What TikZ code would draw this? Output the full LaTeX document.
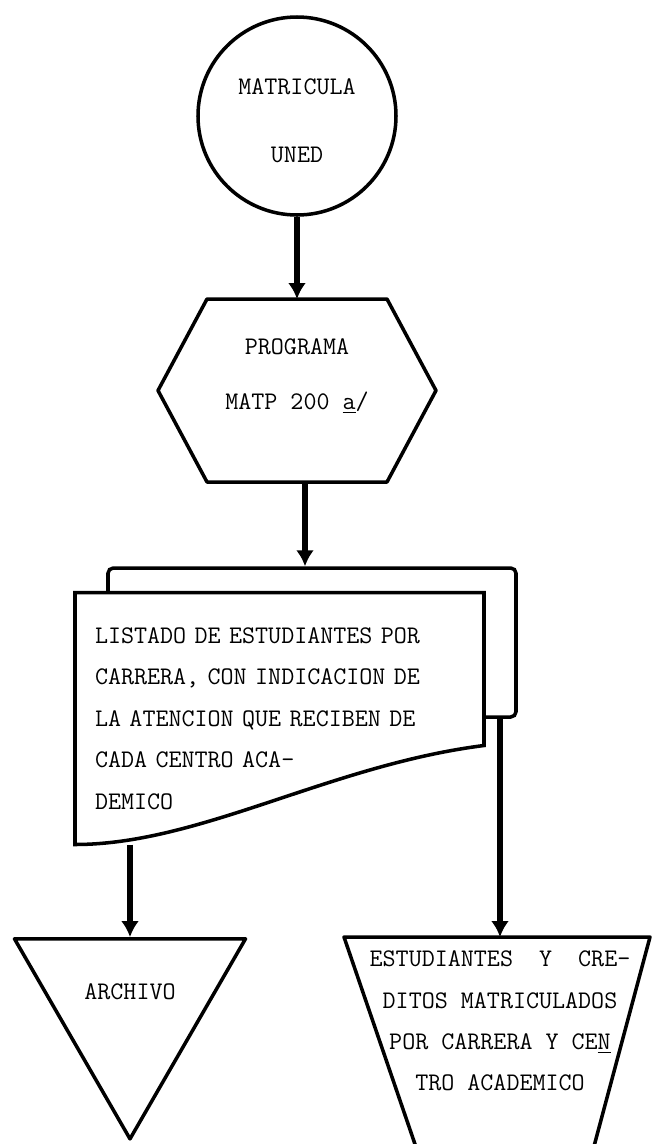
\documentclass[tikz,border=0pt]{standalone}
\usepackage{fontspec}
\usetikzlibrary{positioning,shapes.geometric,arrows.meta,backgrounds}

\begin{document}
\begin{tikzpicture}[node distance = 5cm and 1cm ,on grid ,line width = 2pt ,line join = round ,every node/.style = {font = \ttfamily\fontsize{14.4}{23.6}\selectfont} ,flow/.style = {-{Latex[length=0.32cm ,width=0.36cm]} ,line width = 3.2pt} ,outline/.style = {draw ,line width = 2pt}]
\useasboundingbox (0,0) rectangle (13.04,-22.88);
\node[circle ,outline ,minimum size = 3.96cm ,inner sep = 0pt ,align = center ,text height = 1.87cm] (uned) at (5.94,-2.32) {MATRICULA\\[15pt]UNED};
\node[minimum width = 5.56cm ,minimum height = 3.66cm ,inner sep = 0pt ,outer sep = 0pt ,align = center ,text depth = 0.64cm] (prog) [below = 5.49cm of uned] {PROGRAMA\\[7.7pt]MATP 200 \underline{a}/};
\draw[outline] ([xshift=0.98cm]prog.north west) -- ([xshift=-0.98cm]prog.north east) -- (prog.east) -- ([xshift=-0.98cm]prog.south east) -- ([xshift=0.98cm]prog.south west) -- (prog.west) -- cycle;
\path (uned) edge [flow] (prog);
% listado, con su hoja de fondo
\begin{scope}[on background layer]
\node[outline ,fill = white ,rounded corners = 3pt ,minimum width = 8.16cm ,minimum height = 2.98cm] (listbg) [below right = 5.04cm and 0.30cm of prog] {};
\end{scope}
\path ([xshift=0.16cm]prog.south) edge [flow] ([xshift=0.16cm]prog.south |- listbg.north);
\node[minimum width = 8.18cm ,minimum height = 5.04cm ,inner sep = 0pt ,outer sep = 0pt ,text width = 7.38cm ,align = left] (list) [below left = 1.52cm and 0.65cm of listbg] {LISTADO DE ESTUDIANTES POR\\CARRERA, CON INDICACION DE\\LA ATENCION QUE RECIBEN DE\\CADA CENTRO ACA-\\DEMICO};
\begin{scope}[on background layer]
\draw[outline ,fill = white] (list.north west) -- (list.north east) -- ([yshift=1.98cm]list.south east) .. controls ([shift={(1.01,-0.93)}]list.center) and ([xshift=2.5cm]list.south west) .. (list.south west) -- cycle;
\end{scope}
% salidas
\node[regular polygon ,regular polygon sides = 3 ,shape border rotate = 180 ,outline ,minimum size = 5.335cm ,inner sep = 0pt] (arch) [below left = 5.74cm and 2.99cm of list] {};
\node (archlbl) [below = 0.78cm of arch.north] {ARCHIVO};
\path (list.south -| arch.north) edge [flow] (arch.north);
\node[align = center] (credit) [below right = 6.05cm and 4.41cm of list] {ESTUDIANTES~~Y~~CRE-\\DITOS MATRICULADOS\\POR CARRERA Y CE\underline{N}\\TRO ACADEMICO};
\draw[outline] ([shift={(-1.66,-2.58)}]credit.center) -- ([shift={(-3.12,1.68)}]credit.center) -- ([shift={(3.00,1.68)}]credit.center) -- ([shift={(1.86,-2.58)}]credit.center);
\coordinate (credtop) at ([yshift=1.68cm]credit.center);
\path (listbg.south -| credtop) edge [flow] (credtop);
\end{tikzpicture}
\end{document}
